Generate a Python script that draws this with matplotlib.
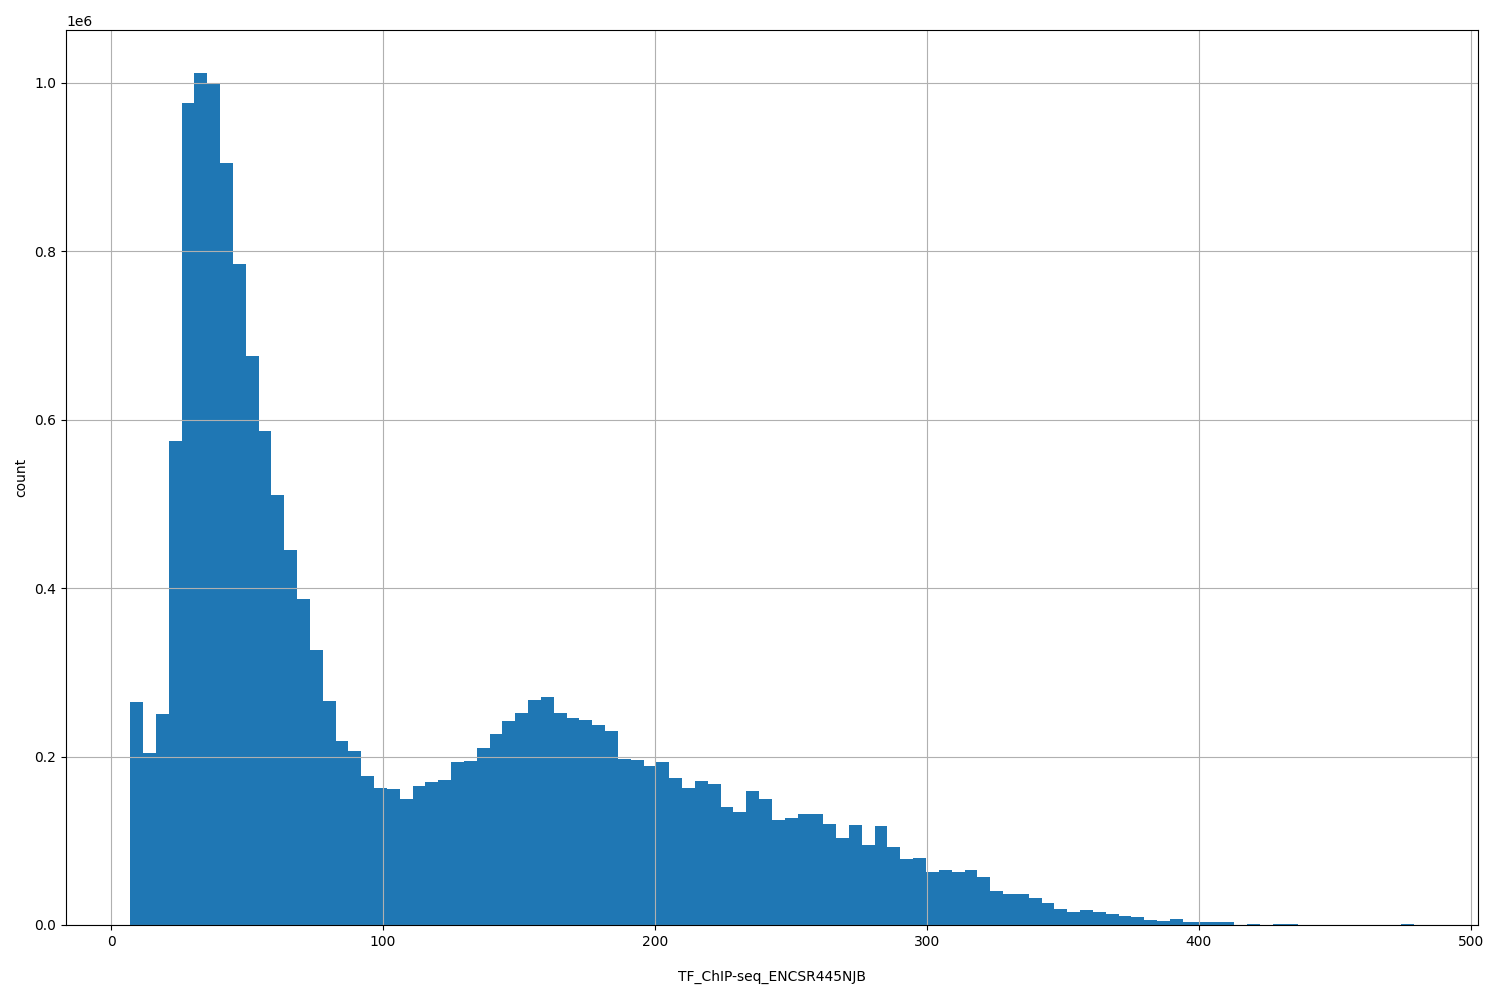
import numpy as np
import matplotlib
matplotlib.use("Agg")
import matplotlib.pyplot as plt

# Histogram of fragment lengths: 100 bins between min and max
bin_min = 7.0
bin_max = 479.0
n_bins = 100

# counts per bin (in units of 1e6)
counts_m = [
    0.265, 0.204, 0.251, 0.575, 0.976, 1.012, 1.000, 0.905, 0.785, 0.676,
    0.587, 0.511, 0.445, 0.387, 0.327, 0.266, 0.218, 0.207, 0.177, 0.163,
    0.161, 0.150, 0.165, 0.170, 0.172, 0.194, 0.195, 0.210, 0.227, 0.242,
    0.252, 0.267, 0.271, 0.252, 0.246, 0.243, 0.237, 0.230, 0.197, 0.196,
    0.189, 0.193, 0.175, 0.163, 0.171, 0.167, 0.140, 0.134, 0.159, 0.150,
    0.125, 0.127, 0.132, 0.132, 0.120, 0.103, 0.119, 0.095, 0.118, 0.093,
    0.078, 0.080, 0.063, 0.065, 0.063, 0.065, 0.057, 0.040, 0.037, 0.037,
    0.032, 0.026, 0.019, 0.016, 0.018, 0.016, 0.013, 0.011, 0.010, 0.006,
    0.005, 0.007, 0.003, 0.003, 0.004, 0.003, 0.0002, 0.0012, 0.0, 0.0012,
    0.0012, 0.0, 0.0, 0.0, 0.0, 0.0, 0.0, 0.0, 0.0, 0.0012,
]

x_label = "TF_ChIP-seq_ENCSR445NJB"
y_label = "count"

counts = np.array(counts_m) * 1e6
edges = np.linspace(bin_min, bin_max, n_bins + 1)
centers = (edges[:-1] + edges[1:]) / 2

fig = plt.figure(figsize=(15, 10), dpi=100)
ax = fig.add_axes([0.044, 0.075, 0.9413, 0.895])
ax.hist(centers, bins=edges, weights=counts, color="#1f77b4")
ax.grid(True)
ax.set_xlabel(x_label, labelpad=15)
ax.set_ylabel(y_label)
fig.savefig("out.png", dpi=100)
